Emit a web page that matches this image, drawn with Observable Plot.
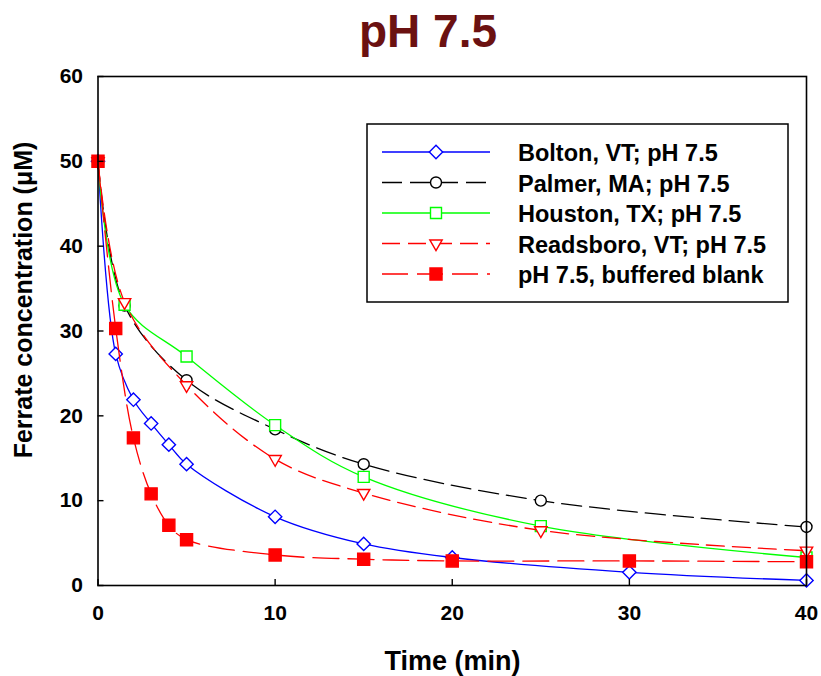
<!DOCTYPE html>
<html><head><meta charset="utf-8">
<script src="https://cdn.jsdelivr.net/npm/d3@7"></script>
<script src="https://cdn.jsdelivr.net/npm/@observablehq/plot@0.6"></script>
<style>
body{margin:0;background:#fff;}
#wrap{position:relative;width:821px;height:676px;}
</style></head><body>
<div id="wrap"></div>
<script>
// ---- data ----
const chartTitle = "pH 7.5";
const xLabel = "Time (min)";
const yLabel = "Ferrate concentration (\u03BCM)";
const seriesNames = ["Bolton, VT; pH 7.5", "Palmer, MA; pH 7.5", "Houston, TX; pH 7.5", "Readsboro, VT; pH 7.5", "pH 7.5, buffered blank"];
const boltonTime = [0, 1, 2, 3, 4, 5, 10, 15, 20, 30, 40];
const boltonConc = [50, 27.3, 21.9, 19.1, 16.6, 14.3, 8.1, 4.9, 3.3, 1.55, 0.6];
const palmerTime = [0, 1.5, 5, 10, 15, 25, 40];
const palmerConc = [50, 33.0, 24.2, 18.4, 14.3, 10.0, 6.9];
const houstonTime = [0, 1.5, 5, 10, 15, 25, 40];
const houstonConc = [50, 33.1, 27.0, 18.9, 12.8, 7.0, 3.3];
const readsboroTime = [0, 1.5, 5, 10, 15, 25, 40];
const readsboroConc = [50, 33.4, 23.6, 14.9, 10.9, 6.5, 4.1];
const blankTime = [0, 1, 2, 3, 4, 5, 10, 15, 20, 30, 40];
const blankConc = [50, 30.3, 17.4, 10.8, 7.1, 5.4, 3.6, 3.1, 2.9, 2.9, 2.8];
const xTicks = [0, 10, 20, 30, 40];
const yTicks = [0, 10, 20, 30, 40, 50, 60];

// ---- styles ----
const styles = [
  {stroke: "#0000ff", dash: null,   symbol: "diamond2",  r: 6.0, fill: "white",   rotate: 0},
  {stroke: "#000000", dash: "20,8", symbol: "circle",    r: 5.5, fill: "white",   rotate: 0},
  {stroke: "#00ff00", dash: null,   symbol: "square2",   r: 7.0, fill: "white",   rotate: 0},
  {stroke: "#ff0000", dash: "18,8", symbol: "triangle2", r: 5.9, fill: "white",   rotate: 180},
  {stroke: "#ff0000", dash: "26,9", symbol: "square",    r: 6.8, fill: "#ff0000", rotate: 0}
];
const FONT = "Arial, 'Liberation Sans', Helvetica, sans-serif";

const series = [
  {time: boltonTime, conc: boltonConc},
  {time: palmerTime, conc: palmerConc},
  {time: houstonTime, conc: houstonConc},
  {time: readsboroTime, conc: readsboroConc},
  {time: blankTime, conc: blankConc}
].map((s, i) => ({name: seriesNames[i], rows: s.time.map((t, j) => ({time: t, conc: s.conc[j]}))}));

const marks = [];
series.forEach((s, i) => {
  const st = styles[i];
  marks.push(Plot.line(s.rows, {x: "time", y: "conc", stroke: st.stroke, strokeWidth: 1.3,
    strokeDasharray: st.dash, curve: "catmull-rom"}));
  marks.push(Plot.dot(s.rows, {x: "time", y: "conc", symbol: st.symbol, r: st.r, stroke: st.stroke,
    fill: st.fill, strokeWidth: 1.4, rotate: st.rotate}));
});

const plot = Plot.plot({
  width: 821, height: 676,
  marginTop: 76, marginBottom: 91, marginLeft: 97.5, marginRight: 15,
  style: {fontFamily: FONT, background: "white", overflow: "visible"},
  x: {domain: [0, 40]},
  y: {domain: [0, 60]},
  marks: [
    ...marks,
    Plot.frame({stroke: "black", strokeWidth: 1.6}),
    Plot.axisX({ticks: xTicks, tickSize: 0, tickPadding: 20, label: null, fontSize: 21, fontWeight: "bold", fill: "black", tickFormat: d => d}),
    Plot.axisX({ticks: xTicks, tickSize: 6, dy: -6, label: null, tickFormat: () => "", strokeWidth: 1.4}),
    Plot.axisY({ticks: yTicks, tickSize: 0, tickPadding: 15, label: null, fontSize: 21, fontWeight: "bold", fill: "black", tickFormat: d => d}),
    Plot.axisY({ticks: yTicks, tickSize: 6, dx: 6, label: null, tickFormat: () => "", strokeWidth: 1.4})
  ]
});
document.getElementById("wrap").appendChild(plot);

// ---- title, axis labels, legend ----
const svg = d3.select(plot);
svg.append("text").attr("x", 428).attr("y", 47).attr("text-anchor", "middle")
  .attr("font-family", FONT).attr("font-size", 46).attr("font-weight", "bold").attr("fill", "#6b1111")
  .text(chartTitle);
svg.append("text").attr("x", 452.5).attr("y", 670).attr("text-anchor", "middle")
  .attr("font-family", FONT).attr("font-size", 27).attr("font-weight", "bold").attr("fill", "black")
  .text(xLabel);
svg.append("text").attr("transform", "translate(32,300) rotate(-90)").attr("text-anchor", "middle")
  .attr("font-family", FONT).attr("font-size", 25).attr("font-weight", "bold").attr("fill", "black")
  .text(yLabel);

const lg = svg.append("g");
lg.append("rect").attr("x", 367).attr("y", 124).attr("width", 421).attr("height", 178)
  .attr("fill", "white").attr("stroke", "black").attr("stroke-width", 1.5);
const symMap = {diamond2: d3.symbolDiamond2, circle: d3.symbolCircle, square2: d3.symbolSquare2, triangle2: d3.symbolTriangle2, square: d3.symbolSquare};
seriesNames.forEach((name, i) => {
  const st = styles[i];
  const cy = 152 + i * 30.5;
  lg.append("line").attr("x1", 382).attr("x2", 490).attr("y1", cy).attr("y2", cy)
    .attr("stroke", st.stroke).attr("stroke-width", 1.3).attr("stroke-dasharray", st.dash);
  lg.append("path").attr("d", d3.symbol(symMap[st.symbol], st.r * st.r * Math.PI)())
    .attr("transform", `translate(436,${cy}) rotate(${st.rotate})`)
    .attr("fill", st.fill).attr("stroke", st.stroke).attr("stroke-width", 1.4);
  lg.append("text").attr("x", 518).attr("y", cy + 9).attr("text-anchor", "start")
    .attr("font-family", FONT).attr("font-size", 23.5).attr("font-weight", "bold").attr("fill", "black")
    .text(name);
});
</script>
</body></html>
